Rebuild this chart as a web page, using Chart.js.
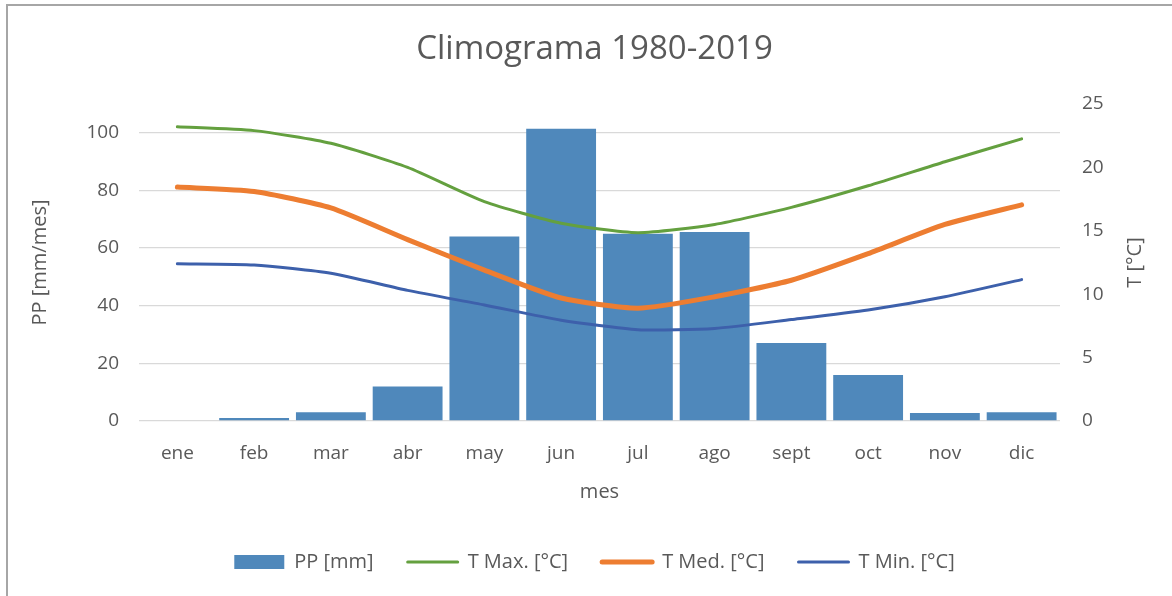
<!DOCTYPE html>
<html>
<head>
<meta charset="utf-8">
<script src="https://cdn.jsdelivr.net/npm/chart.js@4/dist/chart.umd.min.js"></script>
<style>
  html, body { margin: 0; padding: 0; background: #ffffff; }
  #wrap { position: relative; width: 1172px; height: 596px; }
  canvas { display: block; }
</style>
</head>
<body>
<div id="wrap"><canvas id="c" width="1172" height="596"></canvas></div>
<script>
// ---- data ----
const months = ['ene','feb','mar','abr','may','jun','jul','ago','sept','oct','nov','dic'];
const ppMm   = [0, 1, 3, 12, 64, 101.4, 65, 65.6, 27.1, 16, 2.8, 3];
const tMax   = [23.2, 22.9, 21.9, 20.0, 17.3, 15.6, 14.85, 15.5, 16.85, 18.55, 20.45, 22.25];
const tMed   = [18.45, 18.1, 16.8, 14.3, 11.9, 9.7, 8.9, 9.8, 11.1, 13.2, 15.5, 17.05];
const tMin   = [12.4, 12.3, 11.65, 10.3, 9.15, 7.95, 7.2, 7.3, 8.0, 8.75, 9.8, 11.15];
const leftTicks  = [0, 20, 40, 60, 80, 100];
const rightTicks = [0, 5, 10, 15, 20, 25];

const FONT = "'Open Sans', 'Noto Sans', sans-serif";
const TXT = '#595959';
const PAD_L = 17;

const frame = {
  id: 'frame',
  beforeDraw(chart) {
    const ctx = chart.ctx;
    ctx.save();
    ctx.fillStyle = '#ffffff';
    ctx.fillRect(0, 0, chart.width, chart.height);
    ctx.strokeStyle = '#a6a6a6';
    ctx.lineWidth = 2;
    ctx.beginPath();
    ctx.moveTo(7, chart.height + 5);
    ctx.lineTo(7, 5);
    ctx.lineTo(chart.width + 5, 5);
    ctx.stroke();
    ctx.restore();
  },
  afterDraw(chart) {
    const ctx = chart.ctx;
    const a = chart.chartArea;
    ctx.save();
    ctx.fillStyle = TXT;
    ctx.font = "20px " + FONT;
    ctx.textAlign = 'center';
    ctx.textBaseline = 'middle';
    ctx.translate(1135, (a.top + a.bottom) / 2);
    ctx.rotate(-Math.PI / 2);
    ctx.fillText('T [°C]', 0, 0);
    ctx.restore();
  }
};

new Chart(document.getElementById('c'), {
  data: {
    labels: months,
    datasets: [
      { type: 'bar', label: 'PP [mm]', data: ppMm, yAxisID: 'y',
        backgroundColor: '#4f88bb', borderWidth: 0,
        barPercentage: 0.91, categoryPercentage: 1.0, order: 2 },
      { type: 'line', label: 'T Max. [°C]', data: tMax, yAxisID: 'y1',
        borderColor: '#64a03f', backgroundColor: '#64a03f', borderWidth: 3,
        pointRadius: 0, tension: 0.2, borderCapStyle: 'round', order: 1 },
      { type: 'line', label: 'T Med. [°C]', data: tMed, yAxisID: 'y1',
        borderColor: '#ed7d31', backgroundColor: '#ed7d31', borderWidth: 5,
        pointRadius: 0, tension: 0.2, borderCapStyle: 'round', order: 1 },
      { type: 'line', label: 'T Min. [°C]', data: tMin, yAxisID: 'y1',
        borderColor: '#3d60ab', backgroundColor: '#3d60ab', borderWidth: 3,
        pointRadius: 0, tension: 0.2, borderCapStyle: 'round', order: 1 }
    ]
  },
  options: {
    responsive: false,
    animation: false,
    events: [],
    layout: { padding: { left: PAD_L, right: 0, top: 0, bottom: 14 } },
    plugins: {
      tooltip: { enabled: false },
      title: {
        display: true, text: 'Climograma 1980-2019', color: TXT,
        font: { family: FONT, size: 33, weight: 'normal' },
        padding: { top: 30, bottom: 34.4 }
      },
      legend: {
        position: 'bottom',
        labels: {
          color: TXT,
          font: { family: FONT, size: 20 },
          usePointStyle: true,
          pointStyleWidth: 50,
          boxHeight: 14,
          padding: 34,
          sort: (a, b) => a.datasetIndex - b.datasetIndex,
          generateLabels: (chart) => chart.data.datasets.map((ds, i) => ({
            text: ds.label,
            fillStyle: ds.backgroundColor,
            strokeStyle: ds.type === 'line' ? ds.borderColor : ds.backgroundColor,
            lineWidth: ds.type === 'line' ? ds.borderWidth : 0,
            pointStyle: ds.type === 'line' ? 'line' : 'rect',
            lineCap: 'round',
            fontColor: TXT,
            hidden: false,
            datasetIndex: i
          }))
        }
      }
    },
    scales: {
      x: {
        offset: true,
        grid: { display: false, drawTicks: false },
        border: { display: false },
        ticks: { color: TXT, font: { family: FONT, size: 19 }, padding: 21, maxRotation: 0 },
        title: { display: true, text: 'mes', color: TXT, font: { family: FONT, size: 20 }, padding: { top: 0, bottom: 14 } },
        afterFit: (s) => { s.height = 97; }
      },
      y: {
        position: 'left',
        min: 0, max: 110,
        afterBuildTicks: (s) => { s.ticks = leftTicks.map(v => ({ value: v })); },
        grid: { color: '#d9d9d9', lineWidth: 1.3, drawTicks: false },
        border: { display: false },
        ticks: { color: TXT, font: { family: FONT, size: 19 }, padding: 20 },
        title: { display: true, text: 'PP [mm/mes]', color: TXT, font: { family: FONT, size: 20 }, padding: { top: 40 - 12 - PAD_L, bottom: 0 } },
        afterFit: (s) => { s.width = 139 - PAD_L; }
      },
      y1: {
        position: 'right',
        min: 0, max: 25,
        afterBuildTicks: (s) => { s.ticks = rightTicks.map(v => ({ value: v })); },
        grid: { display: false, drawTicks: false },
        border: { display: false },
        ticks: { color: TXT, font: { family: FONT, size: 19 }, padding: 22 },
        afterFit: (s) => { s.width = 112; }
      }
    }
  },
  plugins: [frame]
});
</script>
</body>
</html>
